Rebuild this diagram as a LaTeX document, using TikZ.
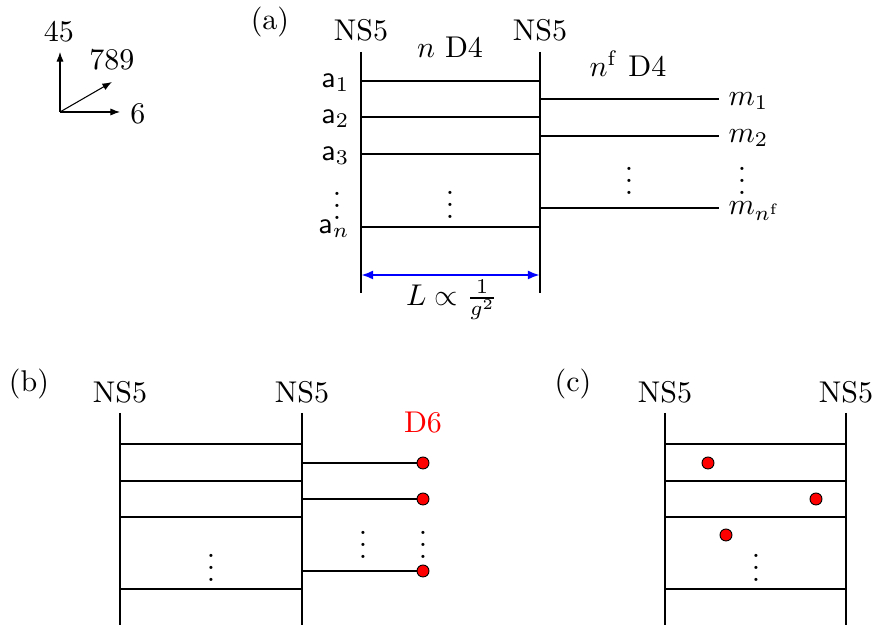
\documentclass[tikz,border=0pt]{standalone}
\usetikzlibrary{arrows.meta}
\begin{document}
\begin{tikzpicture}[x=0.3333pt,y=-0.3333pt,
  brane/.style={line width=0.8pt},
  dfour/.style={line width=0.4pt},
  axis/.style={line width=0.35pt,-{Latex[length=3.2pt,width=2.4pt]}},
  dsix/.style={circle,draw=black,fill=red,line width=0.3pt,inner sep=0pt,minimum size=4pt},
  sep/.style={draw=blue,line width=0.75pt,{Latex[length=4pt,width=3pt]}-{Latex[length=4pt,width=3pt]}},
  lbl/.style={inner sep=0pt}]
\useasboundingbox (0,0) rectangle (875,630);
% axes
\coordinate (O) at (60,112);
\coordinate (X45) at (60,52);
\coordinate (X6) at (120,112);
\coordinate (X789) at (112,82);
\draw[axis] (O) -- (X45);
\draw[axis] (O) -- (X6);
\draw[axis] (O) -- (X789);
\node[lbl] (t45) at (59,32) {45};
\node[lbl] (t789) at (112,60) {789};
\node[lbl] (t6) at (138,114) {6};
% panel (a)
\node[lbl] (pa) at (270,22) {(a)};
\node[lbl] (aNSl) at (361,30) {NS5};
\node[lbl] (aNSr) at (540,30) {NS5};
\coordinate (aLt) at (361,52); \coordinate (aLb) at (361,293);
\coordinate (aRt) at (540,52); \coordinate (aRb) at (540,293);
\draw[brane] (aLt) -- (aLb);
\draw[brane] (aRt) -- (aRb);
\node[lbl] (aD4) at (450,47) {$n$ D4};
\node[lbl] (aD4f) at (628,64) {$n^{\mathrm{f}}$ D4};
\foreach \y/\i in {81/1,117/2,154/3,227/n}{
  \coordinate (aa\i) at (361,\y); \coordinate (ab\i) at (540,\y);
  \draw[dfour] (aa\i) -- (ab\i);
  \node[lbl,anchor=mid east] (al\i) at (350,\y) {$\mathsf{a}_{\i}$};
}
\node[lbl] (avl) at (337,197) {$\vdots$};
\node[lbl] (avm) at (450,196) {$\vdots$};
\foreach \y/\i in {99/1,136/2,208/{n^{\mathrm{f}}}}{
  \coordinate (fa) at (540,\y); \coordinate (fb) at (719,\y);
  \draw[dfour] (fa) -- (fb);
  \node[lbl,anchor=mid west] at (728,\y) {$m_{\i}$};
}
\node[lbl] (avf1) at (629,172) {$\vdots$};
\node[lbl] (avf2) at (742,172) {$\vdots$};
\coordinate (sl) at (361,275); \coordinate (sr) at (540,275);
\draw[sep] (sl) -- (sr);
\node[lbl] (Lg) at (452,300) {$L\propto\frac{1}{g^2}$};
% panel (b)
\node[lbl] (pb) at (29,384) {(b)};
\node[lbl] (bNSl) at (120,392) {NS5};
\node[lbl] (bNSr) at (302,392) {NS5};
\coordinate (bLt) at (120,413); \coordinate (bLb) at (120,625);
\coordinate (bRt) at (302,413); \coordinate (bRb) at (302,625);
\draw[brane] (bLt) -- (bLb);
\draw[brane] (bRt) -- (bRb);
\foreach \y/\i in {444/1,481/2,517/3,589/4}{
  \coordinate (ba\i) at (120,\y); \coordinate (bb\i) at (302,\y);
  \draw[dfour] (ba\i) -- (bb\i);
}
\node[lbl,text=red] (bD6) at (423,423) {D6};
\foreach \y/\i in {463/1,499/2,571/3}{
  \coordinate (bf\i) at (302,\y);
  \node[dsix] (bd\i) at (423,\y) {};
  \draw[dfour] (bf\i) -- (bd\i);
}
\node[lbl] (bv1) at (363,536) {$\vdots$};
\node[lbl] (bv2) at (423,536) {$\vdots$};
\node[lbl] (bv3) at (211,559) {$\vdots$};
% panel (c)
\node[lbl] (pc) at (573,384) {(c)};
\node[lbl] (cNSl) at (665,392) {NS5};
\node[lbl] (cNSr) at (846,392) {NS5};
\coordinate (cLt) at (665,413); \coordinate (cLb) at (665,625);
\coordinate (cRt) at (846,413); \coordinate (cRb) at (846,625);
\draw[brane] (cLt) -- (cLb);
\draw[brane] (cRt) -- (cRb);
\foreach \y/\i in {444/1,481/2,517/3,589/4}{
  \coordinate (ca\i) at (665,\y); \coordinate (cb\i) at (846,\y);
  \draw[dfour] (ca\i) -- (cb\i);
}
\node[dsix] (cd1) at (708,463) {};
\node[dsix] (cd2) at (816,499) {};
\node[dsix] (cd3) at (726,535) {};
\node[lbl] (cv) at (756,559) {$\vdots$};
\end{tikzpicture}
\end{document}
